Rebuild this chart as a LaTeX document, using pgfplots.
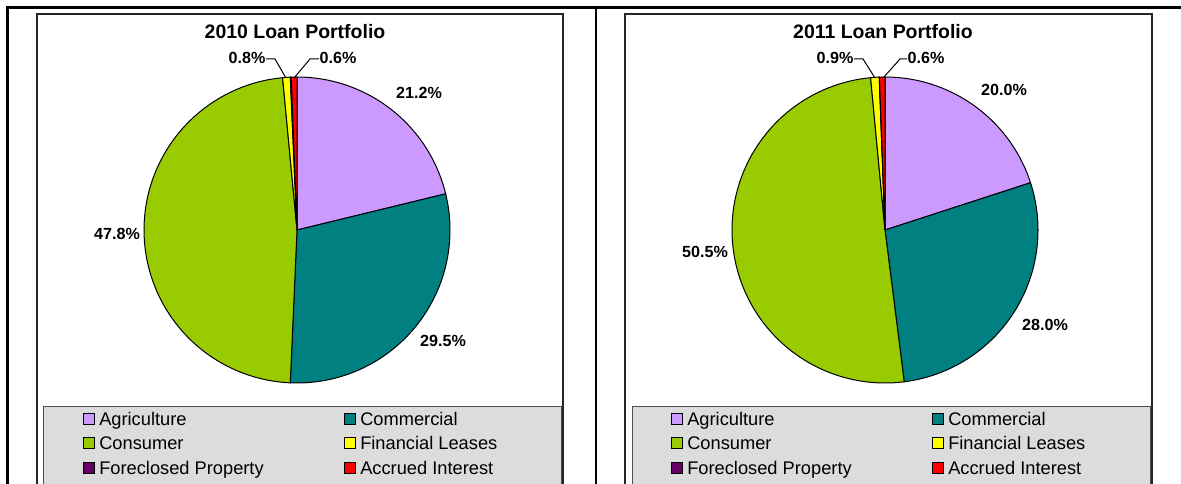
\documentclass[border=0pt]{standalone}
\usepackage{pgfplots}
\pgfplotsset{compat=1.18}
\usepackage{fontspec}
\setmainfont{Liberation Sans}
\definecolor{agri}{HTML}{CC99FF}
\definecolor{comm}{HTML}{008080}
\definecolor{cons}{HTML}{99CC00}
\definecolor{finl}{HTML}{FFFF00}
\definecolor{fore}{HTML}{660066}
\definecolor{accr}{HTML}{FF0000}
\definecolor{legbg}{HTML}{DCDCDC}
\newcommand{\titlefont}{\fontsize{14.6}{17}\selectfont\bfseries}
\newcommand{\labfont}{\fontsize{12.1}{14}\selectfont\bfseries}
\newcommand{\legfont}{\fontsize{13.7}{16}\selectfont}
% slice from cumulative percent #1 to #2, clockwise from 12 o'clock
\newcommand{\slice}[3]{%
  \addplot[draw=black, line width=0.75pt, fill=#3, data cs=polar,
    domain=90-3.6*#2:90-3.6*#1, samples=90] (x,1) -- (axis cs:0,0) -- cycle;
}
\newcommand{\legitem}[4]{%
  \draw[fill=#3, draw=black, line width=0.6pt] (#1-5.5,#2-5.5) rectangle (#1+5.5,#2+5.5);
  \node[anchor=base west, inner sep=0pt, font=\legfont] at (#1+10,#2+6.5) {#4};
}
\pgfplotsset{piestyle/.style={anchor=center, width=229.5pt, height=229.5pt,
  scale only axis, hide axis, xmin=-1, xmax=1, ymin=-1, ymax=1, clip=false}}
\begin{document}
\begin{tikzpicture}[x=0.75pt, y=-0.75pt]
\useasboundingbox (0,0) rectangle (1181,484);
\clip (0,0) rectangle (1181,484);
\coordinate (c1) at (297,230);
\coordinate (c2) at (885,230);
% outer table lines
\draw[line width=2.2pt] (6,7.5) -- (1190,7.5);
\draw[line width=2.2pt] (7.5,6) -- (7.5,495);
\draw[line width=2.2pt] (596,6) -- (596,495);
% plot area boxes
\draw[line width=0.9pt, black!85] (37,14) rectangle (563,510);
\draw[line width=0.9pt, black!85] (625,14) rectangle (1152,510);
% legend boxes
\draw[fill=legbg, draw=black!70, line width=0.75pt] (43,406) rectangle (561,510);
\draw[fill=legbg, draw=black!70, line width=0.75pt] (632,406) rectangle (1150,510);

% ---------- 2010 ----------
\begin{axis}[piestyle, at={(c1)}]
\slice{0}{21.2}{agri}
\slice{21.2}{50.7}{comm}
\slice{50.7}{98.5}{cons}
\slice{98.5}{99.3}{finl}
\slice{99.3}{99.4}{fore}
\slice{99.4}{100}{accr}
\end{axis}
% ---------- 2011 ----------
\begin{axis}[piestyle, at={(c2)}]
\slice{0}{20.0}{agri}
\slice{20.0}{48.0}{comm}
\slice{48.0}{98.5}{cons}
\slice{98.5}{99.4}{finl}
\slice{99.4}{99.42}{fore}
\slice{99.42}{100}{accr}
\end{axis}

% titles
\node[font=\titlefont, inner sep=0pt] at (295,32) {2010 Loan Portfolio};
\node[font=\titlefont, inner sep=0pt] at (883,32) {2011 Loan Portfolio};

% data labels 2010
\node[font=\labfont, inner sep=0pt] at (419,93) {21.2\%};
\node[font=\labfont, inner sep=0pt] at (443,341) {29.5\%};
\node[font=\labfont, inner sep=0pt] at (117,234) {47.8\%};
\node[font=\labfont, inner sep=0pt] at (247,58) {0.8\%};
\node[font=\labfont, inner sep=0pt] at (338,58) {0.6\%};
\draw[line width=0.75pt] (266,59) -- (275,59) -- (286,78);
\draw[line width=0.75pt] (294,78) -- (310,59) -- (319,59);
% data labels 2011
\node[font=\labfont, inner sep=0pt] at (1004,90) {20.0\%};
\node[font=\labfont, inner sep=0pt] at (1045,325) {28.0\%};
\node[font=\labfont, inner sep=0pt] at (705,252) {50.5\%};
\node[font=\labfont, inner sep=0pt] at (835,58) {0.9\%};
\node[font=\labfont, inner sep=0pt] at (926,58) {0.6\%};
\draw[line width=0.75pt] (854,59) -- (863,59) -- (875,78);
\draw[line width=0.75pt] (883,78) -- (900,59) -- (907,59);

% legends
\legitem{89}{419}{agri}{Agriculture}
\legitem{350}{419}{comm}{Commercial}
\legitem{89}{443}{cons}{Consumer}
\legitem{350}{443}{finl}{Financial Leases}
\legitem{89}{468}{fore}{Foreclosed Property}
\legitem{350}{468}{accr}{Accrued Interest}

\legitem{677}{419}{agri}{Agriculture}
\legitem{938}{419}{comm}{Commercial}
\legitem{677}{443}{cons}{Consumer}
\legitem{938}{443}{finl}{Financial Leases}
\legitem{677}{468}{fore}{Foreclosed Property}
\legitem{938}{468}{accr}{Accrued Interest}
\end{tikzpicture}
\end{document}
